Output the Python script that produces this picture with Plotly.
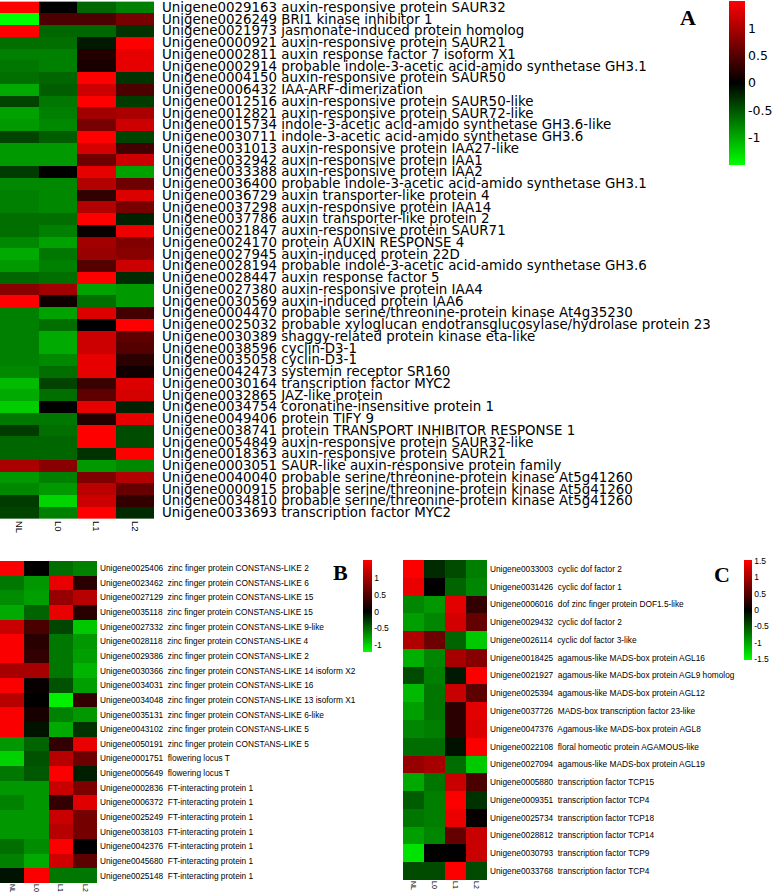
import plotly.graph_objects as go

cols = ["NL", "L0", "L1", "L2"]

genes_a = [
    "Unigene0029163 auxin-responsive protein SAUR32",
    "Unigene0026249 BRI1 kinase inhibitor 1",
    "Unigene0021973 jasmonate-induced protein homolog",
    "Unigene0000921 auxin-responsive protein SAUR21",
    "Unigene0002811 auxin response factor 7 isoform X1",
    "Unigene0002914 probable indole-3-acetic acid-amido synthetase GH3.1",
    "Unigene0004150 auxin-responsive protein SAUR50",
    "Unigene0006432 IAA-ARF-dimerization",
    "Unigene0012516 auxin-responsive protein SAUR50-like",
    "Unigene0012821 auxin-responsive protein SAUR72-like",
    "Unigene0015734 indole-3-acetic acid-amido synthetase GH3.6-like",
    "Unigene0030711 indole-3-acetic acid-amido synthetase GH3.6",
    "Unigene0031013 auxin-responsive protein IAA27-like",
    "Unigene0032942 auxin-responsive protein IAA1",
    "Unigene0033388 auxin-responsive protein IAA2",
    "Unigene0036400 probable indole-3-acetic acid-amido synthetase GH3.1",
    "Unigene0036729 auxin transporter-like protein 4",
    "Unigene0037298 auxin-responsive protein IAA14",
    "Unigene0037786 auxin transporter-like protein 2",
    "Unigene0021847 auxin-responsive protein SAUR71",
    "Unigene0024170 protein AUXIN RESPONSE 4",
    "Unigene0027945 auxin-induced protein 22D",
    "Unigene0028194 probable indole-3-acetic acid-amido synthetase GH3.6",
    "Unigene0028447 auxin response factor 5",
    "Unigene0027380 auxin-responsive protein IAA4",
    "Unigene0030569 auxin-induced protein IAA6",
    "Unigene0004470 probable serine/threonine-protein kinase At4g35230",
    "Unigene0025032 probable xyloglucan endotransglucosylase/hydrolase protein 23",
    "Unigene0030389 shaggy-related protein kinase eta-like",
    "Unigene0038596 cyclin-D3-1",
    "Unigene0035058 cyclin-D3-1",
    "Unigene0042473 systemin receptor SR160",
    "Unigene0030164 transcription factor MYC2",
    "Unigene0032865 JAZ-like protein",
    "Unigene0034754 coronatine-insensitive protein 1",
    "Unigene0049406 protein TIFY 9",
    "Unigene0038741 protein TRANSPORT INHIBITOR RESPONSE 1",
    "Unigene0054849 auxin-responsive protein SAUR32-like",
    "Unigene0018363 auxin-responsive protein SAUR21",
    "Unigene0003051 SAUR-like auxin-responsive protein family",
    "Unigene0040040 probable serine/threonine-protein kinase At5g41260",
    "Unigene0000915 probable serine/threonine-protein kinase At5g41260",
    "Unigene0034810 probable serine/threonine-protein kinase At5g41260",
    "Unigene0033693 transcription factor MYC2",
]

values_a = [
    [1.5, 0.0, -0.6, -0.75],
    [-1.5, 0.45, 0.45, 0.7],
    [1.5, -0.6, -0.6, -0.3],
    [-0.65, -0.65, -0.15, 1.5],
    [-0.75, -0.75, 0.2, 1.35],
    [-0.7, -0.75, 0.15, 1.35],
    [-0.65, -0.6, 1.5, -0.3],
    [-1.0, -0.55, 1.2, 0.45],
    [-0.4, -0.7, 1.5, -0.35],
    [-0.95, -0.75, 0.95, 1.0],
    [-0.9, -0.8, 0.7, 1.2],
    [-0.4, -0.55, 1.5, -0.4],
    [-0.9, -0.9, 1.25, 0.4],
    [-0.9, -0.9, 0.65, 1.2],
    [-0.35, 0.0, 1.35, -0.95],
    [-0.8, -0.8, 1.05, 0.65],
    [-0.75, -0.8, 0.3, 1.3],
    [-0.75, -0.8, 1.05, 0.7],
    [-0.65, -0.65, 1.5, -0.2],
    [-0.65, -0.75, 0.05, 1.4],
    [-0.8, -0.95, 0.95, 0.75],
    [-1.0, -0.7, 0.9, 0.8],
    [-0.9, -0.75, 0.5, 1.2],
    [-0.6, -0.65, 1.5, -0.25],
    [0.8, 0.95, -0.95, -0.9],
    [1.5, 0.1, -0.65, -0.9],
    [-0.75, -0.95, 1.3, 0.4],
    [-0.75, -0.65, 0.0, 1.5],
    [-0.75, -1.0, 1.2, 0.55],
    [-0.75, -1.0, 1.2, 0.5],
    [-0.75, -0.8, 1.35, 0.25],
    [-0.8, -0.65, 1.35, 0.1],
    [-1.1, -0.4, 0.35, 1.3],
    [-1.0, -0.65, 0.55, 1.25],
    [-1.2, 0.0, 1.35, -0.2],
    [-0.7, -0.7, 0.2, 1.35],
    [-0.35, -0.65, 1.5, -0.45],
    [-0.6, -0.6, 1.5, -0.45],
    [-0.6, -0.6, -0.3, 1.5],
    [1.0, 0.8, -0.9, -0.8],
    [-0.9, -0.75, 0.75, 1.05],
    [-0.8, -0.9, 1.1, 0.6],
    [-0.35, -1.25, 1.2, 0.3],
    [-0.4, -0.75, 1.5, -0.25],
]

genes_b = [
    "Unigene0025406  zinc finger protein CONSTANS-LIKE 2",
    "Unigene0023462  zinc finger protein CONSTANS-LIKE 6",
    "Unigene0027129  zinc finger protein CONSTANS-LIKE 15",
    "Unigene0035118  zinc finger protein CONSTANS-LIKE 15",
    "Unigene0027332  zinc finger protein CONSTANS-LIKE 9-like",
    "Unigene0028118  zinc finger protein CONSTANS-LIKE 4",
    "Unigene0029386  zinc finger protein CONSTANS-LIKE 2",
    "Unigene0030366  zinc finger protein CONSTANS-LIKE 14 isoform X2",
    "Unigene0034031  zinc finger protein CONSTANS-LIKE 16",
    "Unigene0034048  zinc finger protein CONSTANS-LIKE 13 isoform X1",
    "Unigene0035131  zinc finger protein CONSTANS-LIKE 6-like",
    "Unigene0043102  zinc finger protein CONSTANS-LIKE 5",
    "Unigene0050191  zinc finger protein CONSTANS-LIKE 5",
    "Unigene0001751  flowering locus T",
    "Unigene0005649  flowering locus T",
    "Unigene0002836  FT-interacting protein 1",
    "Unigene0006372  FT-interacting protein 1",
    "Unigene0025249  FT-interacting protein 1",
    "Unigene0038103  FT-interacting protein 1",
    "Unigene0042376  FT-interacting protein 1",
    "Unigene0045680  FT-interacting protein 1",
    "Unigene0025148  FT-interacting protein 1",
]

values_b = [
    [1.5, 0.0, -0.52, -0.61],
    [-0.56, -0.71, 1.4, 0.24],
    [-0.66, -0.75, 0.9, 1.1],
    [-0.8, -0.47, 1.4, 0.24],
    [1.2, 0.45, -0.33, -0.94],
    [1.5, 0.24, -0.56, -0.71],
    [1.5, 0.3, -0.56, -0.75],
    [1.0, 1.0, -0.56, -0.85],
    [1.5, 0.05, -0.38, -0.75],
    [1.1, 0.0, -1.13, 0.3],
    [1.5, 0.15, -0.61, -0.71],
    [1.5, -0.09, -0.8, -0.24],
    [-0.71, -0.47, 0.3, 1.4],
    [-0.99, -0.38, 1.1, 0.65],
    [-0.56, -0.42, 1.5, -0.14],
    [-0.71, -0.71, 1.2, 0.75],
    [-0.61, -0.71, 0.3, 1.35],
    [-0.71, -0.71, 1.2, 0.7],
    [-0.71, -0.71, 1.1, 0.7],
    [-0.52, -0.66, 1.5, 0.0],
    [-0.61, -0.8, 1.25, 0.55],
    [-0.09, 1.5, -0.56, -0.56],
]

genes_c = [
    "Unigene0033003  cyclic dof factor 2",
    "Unigene0031426  cyclic dof factor 1",
    "Unigene0006016  dof zinc finger protein DOF1.5-like",
    "Unigene0029432  cyclic dof factor 2",
    "Unigene0026114  cyclic dof factor 3-like",
    "Unigene0018425  agamous-like MADS-box protein AGL16",
    "Unigene0021927  agamous-like MADS-box protein AGL9 homolog",
    "Unigene0025394  agamous-like MADS-box protein AGL12",
    "Unigene0037726  MADS-box transcription factor 23-like",
    "Unigene0047376  Agamous-like MADS-box protein AGL8",
    "Unigene0022108  floral homeotic protein AGAMOUS-like",
    "Unigene0027094  agamous-like MADS-box protein AGL19",
    "Unigene0005880  transcription factor TCP15",
    "Unigene0009351  transcription factor TCP4",
    "Unigene0025734  transcription factor TCP18",
    "Unigene0028812  transcription factor TCP14",
    "Unigene0030793  transcription factor TCP9",
    "Unigene0033768  transcription factor TCP4",
]

values_c = [
    [1.5, -0.25, -0.45, -0.75],
    [1.4, 0.0, -0.6, -0.8],
    [-0.8, -0.9, 1.35, 0.3],
    [-0.95, -0.8, 1.25, 0.6],
    [1.05, 0.65, -0.6, -1.2],
    [-1.05, -0.8, 1.0, 0.8],
    [-0.45, -0.75, -0.15, 1.5],
    [-1.1, -0.7, 1.2, 0.55],
    [-0.95, -0.7, 0.25, 1.35],
    [-0.8, -0.75, 0.25, 1.3],
    [-0.65, -0.65, -0.1, 1.5],
    [0.9, 1.0, -0.65, -1.2],
    [-1.0, -0.7, 1.2, 0.45],
    [-0.55, -0.75, 1.5, -0.3],
    [-0.7, -0.75, 1.4, 0.05],
    [-0.95, -0.8, 0.6, 1.2],
    [-1.35, 0.0, 0.0, 1.2],
    [-0.45, -0.45, 1.5, -0.45],
]

ticks_a = [-1, -0.5, 0, 0.5, 1]
ticks_b = [-1, -0.5, 0, 0.5, 1]
ticks_c = [-1.5, -1, -0.5, 0, 0.5, 1, 1.5]

W, H = 778, 892
FONT = "Liberation Sans"
WIDE = "DejaVu Sans"


def px_x(v):
    return v / W


def px_y(v):
    return 1 - v / H


def nb(labels):
    return [s.replace("  ", "\u00a0 ") for s in labels]


labels_b = nb(genes_b)
labels_c = nb(genes_c)

scale_sym = [[0, "#00ff00"], [0.5, "#000000"], [1, "#ff0000"]]
zmin_b, zmax_b = -1.2, 1.53
scale_b = [[0, "#00ff00"], [(-zmin_b) / (zmax_b - zmin_b), "#000000"], [1, "#ff0000"]]

fig = go.Figure()

fig.add_trace(go.Heatmap(
    z=values_a, x=cols, y=genes_a, xaxis="x", yaxis="y",
    colorscale=scale_sym, zmin=-1.5, zmax=1.5,
    colorbar=dict(x=px_x(729), xanchor="left", y=px_y(1), yanchor="top",
                  len=164, lenmode="pixels", thickness=16, thicknessmode="pixels",
                  outlinewidth=0, xpad=0, ypad=0, ticks="", ticklen=0,
                  tickvals=ticks_a, ticktext=[str(t) for t in ticks_a],
                  tickfont=dict(family=WIDE, size=12.5, color="black")),
))

fig.add_trace(go.Heatmap(
    z=values_b, x=cols, y=labels_b, xaxis="x2", yaxis="y2",
    colorscale=scale_b, zmin=zmin_b, zmax=zmax_b,
    colorbar=dict(x=px_x(363), xanchor="left", y=px_y(560), yanchor="top",
                  len=92, lenmode="pixels", thickness=9, thicknessmode="pixels",
                  outlinewidth=0, xpad=0, ypad=0, ticks="", ticklen=0,
                  tickvals=ticks_b, ticktext=[str(t) for t in ticks_b],
                  tickfont=dict(family=FONT, size=8.5, color="black")),
))

fig.add_trace(go.Heatmap(
    z=values_c, x=cols, y=labels_c, xaxis="x3", yaxis="y3",
    colorscale=scale_sym, zmin=-1.52, zmax=1.52,
    colorbar=dict(x=px_x(744), xanchor="left", y=px_y(560), yanchor="top",
                  len=100, lenmode="pixels", thickness=8, thicknessmode="pixels",
                  outlinewidth=0, xpad=0, ypad=0, ticks="", ticklen=0,
                  tickvals=ticks_c, ticktext=[str(t) for t in ticks_c],
                  tickfont=dict(family=FONT, size=8.5, color="black")),
))

common_x = dict(showgrid=False, zeroline=False, showline=False, ticks="",
                tickangle=90, fixedrange=True, tickmode="array",
                tickvals=cols, ticktext=cols)
common_y = dict(showgrid=False, zeroline=False, showline=False, ticks="",
                side="right", autorange="reversed", fixedrange=True,
                tickmode="array")

# row labels of panel A as annotations tied to the y categories
row_notes = [
    dict(text=g, x=1, xref="x domain", y=g, yref="y", xanchor="left", yanchor="middle",
         xshift=8, showarrow=False, borderpad=0, borderwidth=0,
         font=dict(family=WIDE, size=13.4, color="black"))
    for g in genes_a
]

panel_notes = [
    dict(text="<b>A</b>", x=px_x(688), y=px_y(17), xref="paper", yref="paper",
         xanchor="center", yanchor="middle", showarrow=False,
         font=dict(family="Liberation Serif", size=22, color="black")),
    dict(text="<b>B</b>", x=px_x(340), y=px_y(572), xref="paper", yref="paper",
         xanchor="center", yanchor="middle", showarrow=False,
         font=dict(family="Liberation Serif", size=22, color="black")),
    dict(text="<b>C</b>", x=px_x(722), y=px_y(574), xref="paper", yref="paper",
         xanchor="center", yanchor="middle", showarrow=False,
         font=dict(family="Liberation Serif", size=22, color="black")),
]

fig.update_layout(
    width=W, height=H,
    margin=dict(l=0, r=0, t=0, b=0, pad=0),
    paper_bgcolor="white", plot_bgcolor="white",
    font=dict(family=FONT, color="black"),
    xaxis=dict(domain=[px_x(0), px_x(154)], anchor="y",
               tickfont=dict(size=9.5), **common_x),
    yaxis=dict(domain=[px_y(520), px_y(0)], anchor="x",
               tickvals=genes_a, ticktext=genes_a, showticklabels=False, **common_y),
    xaxis2=dict(domain=[px_x(0), px_x(97)], anchor="y2",
                tickfont=dict(size=7), **common_x),
    yaxis2=dict(domain=[px_y(883), px_y(561)], anchor="x2",
                tickvals=labels_b, ticktext=labels_b,
                tickfont=dict(size=8.3), ticklabelstandoff=2, **common_y),
    xaxis3=dict(domain=[px_x(403), px_x(487)], anchor="y3",
                tickfont=dict(size=7), **common_x),
    yaxis3=dict(domain=[px_y(880), px_y(560)], anchor="x3",
                tickvals=labels_c, ticktext=labels_c,
                tickfont=dict(size=8.3), ticklabelstandoff=2, **common_y),
    annotations=row_notes + panel_notes,
)

fig.write_html("out.html", config={"displayModeBar": False},
               post_script="document.body.style.margin='0px';")
